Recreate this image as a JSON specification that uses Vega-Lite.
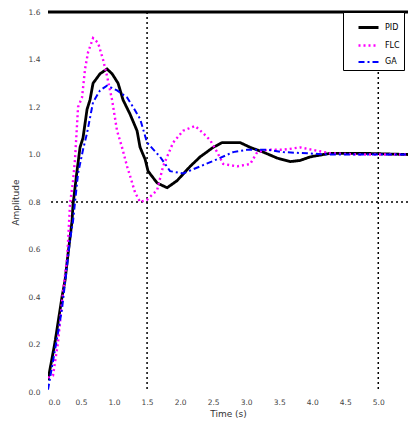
{
  "$schema": "https://vega.github.io/schema/vega-lite/v6.json",
  "width": 360,
  "height": 380,
  "autosize": {"type": "none"},
  "padding": {"left": 48, "top": 12, "right": 0, "bottom": 34},
  "background": "white",
  "config": {
    "view": {"stroke": null},
    "font": "DejaVu Sans",
    "axis": {"labelFontSize": 7.5, "labelColor": "#444", "titleFontSize": 9, "titleFontWeight": "normal", "titleColor": "#333", "grid": false, "ticks": false, "domain": false, "labelOverlap": false}
  },
  "datasets": {
    "resp": [
      {"t": 0, "v": 0.05, "s": "PID"},
      {"t": 0.106, "v": 0.21, "s": "PID"},
      {"t": 0.212, "v": 0.40, "s": "PID"},
      {"t": 0.258, "v": 0.47, "s": "PID"},
      {"t": 0.303, "v": 0.58, "s": "PID"},
      {"t": 0.364, "v": 0.72, "s": "PID"},
      {"t": 0.379, "v": 0.79, "s": "PID"},
      {"t": 0.439, "v": 0.93, "s": "PID"},
      {"t": 0.485, "v": 1.03, "s": "PID"},
      {"t": 0.530, "v": 1.07, "s": "PID"},
      {"t": 0.591, "v": 1.19, "s": "PID"},
      {"t": 0.636, "v": 1.23, "s": "PID"},
      {"t": 0.682, "v": 1.30, "s": "PID"},
      {"t": 0.788, "v": 1.34, "s": "PID"},
      {"t": 0.894, "v": 1.36, "s": "PID"},
      {"t": 0.970, "v": 1.34, "s": "PID"},
      {"t": 1.061, "v": 1.30, "s": "PID"},
      {"t": 1.136, "v": 1.23, "s": "PID"},
      {"t": 1.242, "v": 1.17, "s": "PID"},
      {"t": 1.348, "v": 1.10, "s": "PID"},
      {"t": 1.394, "v": 1.03, "s": "PID"},
      {"t": 1.470, "v": 0.98, "s": "PID"},
      {"t": 1.515, "v": 0.93, "s": "PID"},
      {"t": 1.652, "v": 0.88, "s": "PID"},
      {"t": 1.803, "v": 0.86, "s": "PID"},
      {"t": 1.955, "v": 0.89, "s": "PID"},
      {"t": 2.152, "v": 0.95, "s": "PID"},
      {"t": 2.303, "v": 0.99, "s": "PID"},
      {"t": 2.5, "v": 1.03, "s": "PID"},
      {"t": 2.636, "v": 1.05, "s": "PID"},
      {"t": 2.909, "v": 1.05, "s": "PID"},
      {"t": 3.061, "v": 1.03, "s": "PID"},
      {"t": 3.258, "v": 1.01, "s": "PID"},
      {"t": 3.470, "v": 0.985, "s": "PID"},
      {"t": 3.667, "v": 0.97, "s": "PID"},
      {"t": 3.818, "v": 0.975, "s": "PID"},
      {"t": 3.970, "v": 0.99, "s": "PID"},
      {"t": 4.273, "v": 1.005, "s": "PID"},
      {"t": 4.77, "v": 1.005, "s": "PID"},
      {"t": 5.45, "v": 1.0, "s": "PID"},
      {"t": 0, "v": 0.06, "s": "FLC"},
      {"t": 0.076, "v": 0.07, "s": "FLC"},
      {"t": 0.152, "v": 0.21, "s": "FLC"},
      {"t": 0.227, "v": 0.42, "s": "FLC"},
      {"t": 0.288, "v": 0.56, "s": "FLC"},
      {"t": 0.303, "v": 0.63, "s": "FLC"},
      {"t": 0.333, "v": 0.79, "s": "FLC"},
      {"t": 0.379, "v": 0.89, "s": "FLC"},
      {"t": 0.409, "v": 0.98, "s": "FLC"},
      {"t": 0.455, "v": 1.20, "s": "FLC"},
      {"t": 0.515, "v": 1.24, "s": "FLC"},
      {"t": 0.561, "v": 1.36, "s": "FLC"},
      {"t": 0.606, "v": 1.43, "s": "FLC"},
      {"t": 0.682, "v": 1.49, "s": "FLC"},
      {"t": 0.758, "v": 1.47, "s": "FLC"},
      {"t": 0.833, "v": 1.40, "s": "FLC"},
      {"t": 0.894, "v": 1.33, "s": "FLC"},
      {"t": 0.970, "v": 1.23, "s": "FLC"},
      {"t": 1.045, "v": 1.10, "s": "FLC"},
      {"t": 1.121, "v": 1.03, "s": "FLC"},
      {"t": 1.197, "v": 0.95, "s": "FLC"},
      {"t": 1.242, "v": 0.91, "s": "FLC"},
      {"t": 1.318, "v": 0.84, "s": "FLC"},
      {"t": 1.394, "v": 0.80, "s": "FLC"},
      {"t": 1.5, "v": 0.81, "s": "FLC"},
      {"t": 1.652, "v": 0.85, "s": "FLC"},
      {"t": 1.742, "v": 0.95, "s": "FLC"},
      {"t": 1.894, "v": 1.05, "s": "FLC"},
      {"t": 2.045, "v": 1.10, "s": "FLC"},
      {"t": 2.227, "v": 1.12, "s": "FLC"},
      {"t": 2.348, "v": 1.09, "s": "FLC"},
      {"t": 2.455, "v": 1.06, "s": "FLC"},
      {"t": 2.561, "v": 1.01, "s": "FLC"},
      {"t": 2.652, "v": 0.96, "s": "FLC"},
      {"t": 2.864, "v": 0.95, "s": "FLC"},
      {"t": 3.061, "v": 0.96, "s": "FLC"},
      {"t": 3.167, "v": 1.01, "s": "FLC"},
      {"t": 3.318, "v": 1.02, "s": "FLC"},
      {"t": 3.561, "v": 1.02, "s": "FLC"},
      {"t": 3.818, "v": 1.03, "s": "FLC"},
      {"t": 4.27, "v": 1.005, "s": "FLC"},
      {"t": 4.73, "v": 1.0, "s": "FLC"},
      {"t": 5.45, "v": 1.0, "s": "FLC"},
      {"t": 0, "v": 0.01, "s": "GA"},
      {"t": 0.152, "v": 0.25, "s": "GA"},
      {"t": 0.212, "v": 0.35, "s": "GA"},
      {"t": 0.288, "v": 0.53, "s": "GA"},
      {"t": 0.333, "v": 0.64, "s": "GA"},
      {"t": 0.379, "v": 0.72, "s": "GA"},
      {"t": 0.455, "v": 0.92, "s": "GA"},
      {"t": 0.530, "v": 1.02, "s": "GA"},
      {"t": 0.591, "v": 1.09, "s": "GA"},
      {"t": 0.682, "v": 1.22, "s": "GA"},
      {"t": 0.788, "v": 1.27, "s": "GA"},
      {"t": 0.894, "v": 1.29, "s": "GA"},
      {"t": 1.045, "v": 1.27, "s": "GA"},
      {"t": 1.197, "v": 1.24, "s": "GA"},
      {"t": 1.288, "v": 1.20, "s": "GA"},
      {"t": 1.394, "v": 1.15, "s": "GA"},
      {"t": 1.5, "v": 1.05, "s": "GA"},
      {"t": 1.697, "v": 0.99, "s": "GA"},
      {"t": 1.848, "v": 0.93, "s": "GA"},
      {"t": 2.045, "v": 0.92, "s": "GA"},
      {"t": 2.303, "v": 0.95, "s": "GA"},
      {"t": 2.561, "v": 0.98, "s": "GA"},
      {"t": 2.803, "v": 1.01, "s": "GA"},
      {"t": 3.015, "v": 1.02, "s": "GA"},
      {"t": 3.318, "v": 1.02, "s": "GA"},
      {"t": 3.561, "v": 1.01, "s": "GA"},
      {"t": 3.924, "v": 1.005, "s": "GA"},
      {"t": 4.227, "v": 1.0, "s": "GA"},
      {"t": 5.45, "v": 1.0, "s": "GA"}
    ],
    "vrules": [{"t": 1.5}, {"t": 5.0}],
    "hrules": [{"v": 0.8}]
  },
  "encoding": {
    "x": {"field": "t", "type": "quantitative", "scale": {"domain": [0, 5.45], "nice": false}, "axis": {"title": "Time (s)", "values": [0, 0.5, 1, 1.5, 2, 2.5, 3, 3.5, 4, 4.5, 5], "format": ".1f", "labelPadding": 6, "titlePadding": 4, "labelOverlap": false}}
  },
  "layer": [
    {
      "data": {"name": "vrules"},
      "mark": {"type": "rule", "color": "black", "strokeWidth": 1.5, "strokeDash": [2, 3]},
      "encoding": {}
    },
    {
      "data": {"name": "hrules"},
      "mark": {"type": "rule", "color": "black", "strokeWidth": 1.5, "strokeDash": [2, 3]},
      "encoding": {
        "x": null,
        "y": {"field": "v", "type": "quantitative", "scale": {"domain": [0, 1.6], "nice": false}, "axis": {"title": "Amplitude", "values": [0, 0.2, 0.4, 0.6, 0.8, 1, 1.2, 1.4, 1.6], "format": ".1f", "labelPadding": 8, "titlePadding": 8}}
      }
    },
    {
      "data": {"name": "resp"},
      "mark": {"type": "line", "clip": true},
      "encoding": {
        "y": {"field": "v", "type": "quantitative", "scale": {"domain": [0, 1.6], "nice": false}, "axis": {"title": "Amplitude", "values": [0, 0.2, 0.4, 0.6, 0.8, 1, 1.2, 1.4, 1.6], "format": ".1f", "labelPadding": 8, "titlePadding": 8}},
        "color": {"field": "s", "type": "ordinal", "scale": {"domain": ["PID", "FLC", "GA"], "range": ["#000000", "#ff00ff", "#0000ff"]}, "legend": {"title": null, "orient": "none", "legendX": 295, "legendY": 0, "symbolType": "stroke", "symbolSize": 400, "symbolOffset": 10, "padding": 4, "rowPadding": 0, "labelFontSize": 8, "labelOffset": 5, "strokeColor": "black", "fillColor": "white", "symbolStrokeWidth": 2}},
        "strokeDash": {"field": "s", "type": "ordinal", "scale": {"domain": ["PID", "FLC", "GA"], "range": [[1, 0], [2, 3], [6, 3, 2, 3]]}},
        "strokeWidth": {"field": "s", "type": "ordinal", "scale": {"domain": ["PID", "FLC", "GA"], "range": [2.8, 2, 1.6]}, "legend": null},
        "order": {"field": "t", "type": "quantitative"}
      }
    },
    {
      "data": {"values": [{"t": 0}]},
      "mark": {"type": "rule", "color": "black", "strokeWidth": 3},
      "encoding": {
        "y": {"value": 0},
        "x": {"value": 0},
        "x2": {"value": 360}
      }
    }
  ]
}
